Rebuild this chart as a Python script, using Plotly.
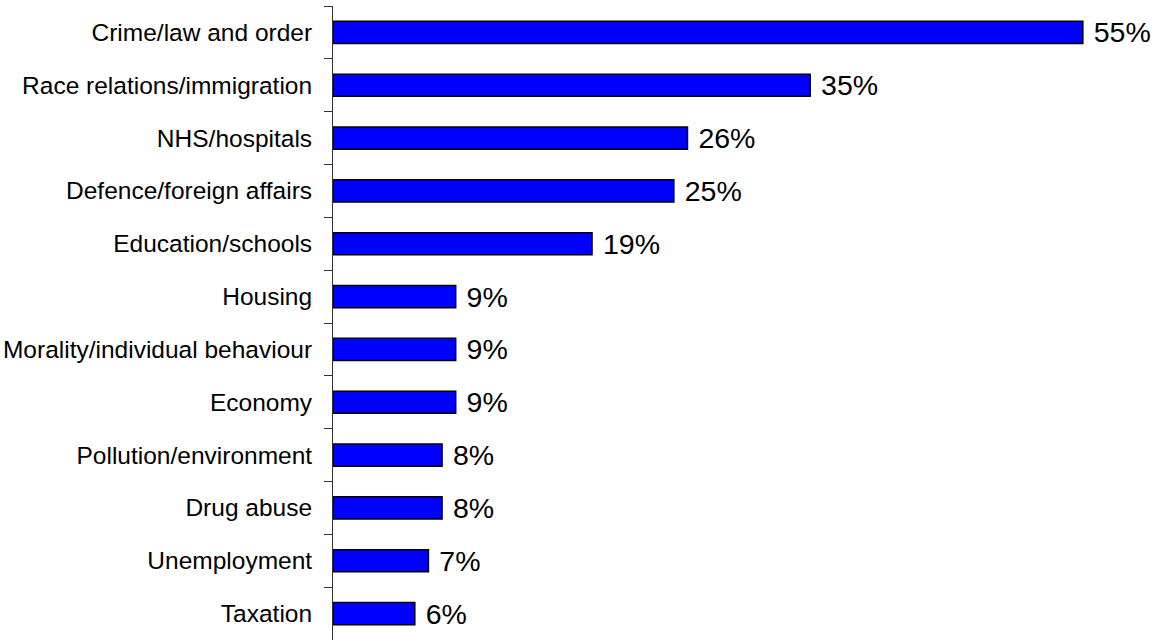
import plotly.graph_objects as go

categories = ["Crime/law and order", "Race relations/immigration", "NHS/hospitals",
              "Defence/foreign affairs", "Education/schools", "Housing",
              "Morality/individual behaviour", "Economy", "Pollution/environment",
              "Drug abuse", "Unemployment", "Taxation"]
values = [55, 35, 26, 25, 19, 9, 9, 9, 8, 8, 7, 6]
labels = [f" {v}%" for v in values]

fig = go.Figure(go.Bar(
    y=categories, x=values, orientation="h",
    marker=dict(color="#0000FF", line=dict(color="black", width=1.5)),
    width=0.42,
    text=labels, textposition="outside", cliponaxis=False,
    constraintext="none",
    textfont=dict(family="Liberation Sans, Arial", size=28.5, color="black"),
    hoverinfo="skip",
))

fig.update_layout(
    width=1157, height=642,
    margin=dict(l=333, r=6, t=6, b=2),
    plot_bgcolor="white", paper_bgcolor="white",
    showlegend=False,
    font=dict(family="Liberation Sans, Arial", color="black"),
)
fig.update_xaxes(range=[0, 60], visible=False)
fig.update_yaxes(
    autorange="reversed", type="category",
    showline=True, linecolor="#333333", linewidth=1,
    ticks="outside", ticklen=8, tickcolor="#333333", tickwidth=1,
    tickson="boundaries", showgrid=False,
    tickfont=dict(size=24.5, family="Liberation Sans, Arial", color="black"),
    ticklabelstandoff=15,
)

fig.write_html("out.html")
